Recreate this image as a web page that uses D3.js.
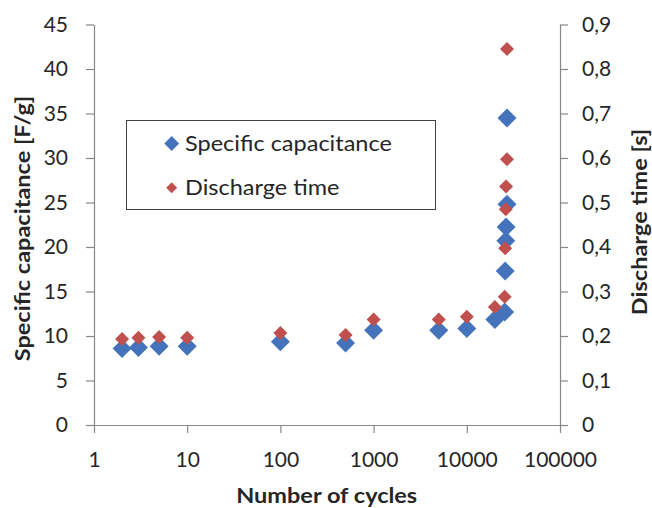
<!DOCTYPE html>
<html>
<head>
<meta charset="utf-8">
<script src="https://cdn.jsdelivr.net/npm/d3@7"></script>
<style>
  html, body { margin: 0; padding: 0; background: #fff; }
  svg { display: block; font-family: Lato, "Open Sans", sans-serif; }
</style>
</head>
<body>
<svg id="chart" width="652" height="508"></svg>
<script>
// Cycle counts at which both quantities were measured
const cycles = [2, 3, 5, 10, 100, 500, 1000, 5000, 10000, 20000,
                25500, 25800, 26200, 26400, 27000, 27000];
// Specific capacitance [F/g]
const capacitance = [8.6, 8.7, 8.85, 8.85, 9.35, 9.2, 10.65, 10.65, 10.85, 11.85,
                     12.7, 17.3, 20.7, 22.25, 24.8, 34.5];
// Discharge time [s]
const dischargeTime = [0.193, 0.196, 0.198, 0.196, 0.207, 0.202, 0.237, 0.237, 0.243, 0.265,
                       0.288, 0.397, 0.485, 0.536, 0.597, 0.845];

const xTicks = [1, 10, 100, 1000, 10000, 100000];
const leftTicks = [0, 5, 10, 15, 20, 25, 30, 35, 40, 45];
const rightTicks = [0, 0.1, 0.2, 0.3, 0.4, 0.5, 0.6, 0.7, 0.8, 0.9];

const seriesNames = ["Specific capacitance", "Discharge time"];
const colors = ["#4473BC", "#C0504D"];

const svg = d3.select("#chart");
const plot = { left: 94, right: 560, top: 24.5, bottom: 425 };

const x = d3.scaleLog().domain([1, 100000]).range([plot.left, plot.right]);
const yL = d3.scaleLinear().domain([0, 45]).range([plot.bottom, plot.top]);
const yR = d3.scaleLinear().domain([0, 0.9]).range([plot.bottom, plot.top]);

const axisColor = "#888888";
const textColor = "#262626";
const widen = 1.12; // horizontal stretch for the wider text face

function styleAxis(g) {
  g.select(".domain").attr("stroke", axisColor).attr("stroke-width", 1.2);
  g.selectAll(".tick line").attr("stroke", axisColor).attr("stroke-width", 1.2);
  g.selectAll(".tick text").attr("fill", textColor)
    .style("font-size", "21px").style("font-family", "Lato, sans-serif");
}

// Horizontal (log) axis
svg.append("g")
  .attr("transform", `translate(0,${plot.bottom})`)
  .call(d3.axisBottom(x).tickValues(xTicks).tickFormat(d3.format("d"))
        .tickSizeInner(8).tickSizeOuter(0).tickPadding(19))
  .call(styleAxis);

// Left axis: specific capacitance
svg.append("g")
  .attr("transform", `translate(${plot.left},0)`)
  .call(d3.axisLeft(yL).tickValues(leftTicks).tickFormat(d3.format("d"))
        .tickSizeInner(8).tickSizeOuter(0).tickPadding(18))
  .call(styleAxis);

// Right axis: discharge time, decimal comma
const commaFmt = d => d === 0 ? "0" : d3.format(".1f")(d).replace(".", ",");
svg.append("g")
  .attr("transform", `translate(${plot.right},0)`)
  .call(d3.axisRight(yR).tickValues(rightTicks).tickFormat(commaFmt)
        .tickSizeInner(8).tickSizeOuter(0).tickPadding(14))
  .call(styleAxis);

// Diamond markers: squares turned by 45 degrees
const bigDiamond = d3.symbol(d3.symbolSquare, 180);
const smallDiamond = d3.symbol(d3.symbolSquare, 98);

svg.append("g").selectAll("path")
  .data(cycles.map((c, i) => ({ c, v: capacitance[i] })))
  .join("path")
  .attr("d", bigDiamond)
  .attr("fill", colors[0])
  .attr("transform", d => `translate(${x(d.c)},${yL(d.v)}) rotate(45)`);

svg.append("g").selectAll("path")
  .data(cycles.map((c, i) => ({ c, v: dischargeTime[i] })))
  .join("path")
  .attr("d", smallDiamond)
  .attr("fill", colors[1])
  .attr("transform", d => `translate(${x(d.c)},${yR(d.v)}) rotate(45)`);

// Axis titles
function title(tx, ty, rot, label) {
  svg.append("text")
    .attr("transform", `translate(${tx},${ty}) rotate(${rot}) scale(${widen},1)`)
    .attr("text-anchor", "middle")
    .attr("fill", textColor)
    .style("font-size", "21px").style("font-weight", "bold")
    .text(label);
}
title(30, 228.5, -90, "Specific capacitance [F/g]");
title(647, 222, -90, "Discharge time [s]");
title(326.7, 503, 0, "Number of cycles");

// Legend
const legend = svg.append("g");
legend.append("rect")
  .attr("x", 126.5).attr("y", 120.5).attr("width", 309).attr("height", 89)
  .attr("fill", "#fff").attr("stroke", "#404040").attr("stroke-width", 1);

const legendRows = [
  { y: 143.5, base: 150.7, sym: d3.symbol(d3.symbolSquare, 110) },
  { y: 187.7, base: 194.5, sym: d3.symbol(d3.symbolSquare, 60) }
];
legendRows.forEach((r, i) => {
  legend.append("path")
    .attr("d", r.sym)
    .attr("fill", colors[i])
    .attr("transform", `translate(171.7,${r.y}) rotate(45)`);
  legend.append("text")
    .attr("transform", `translate(185,${r.base}) scale(${widen},1)`)
    .attr("fill", textColor)
    .style("font-size", "21px")
    .text(seriesNames[i]);
});
</script>
</body>
</html>
